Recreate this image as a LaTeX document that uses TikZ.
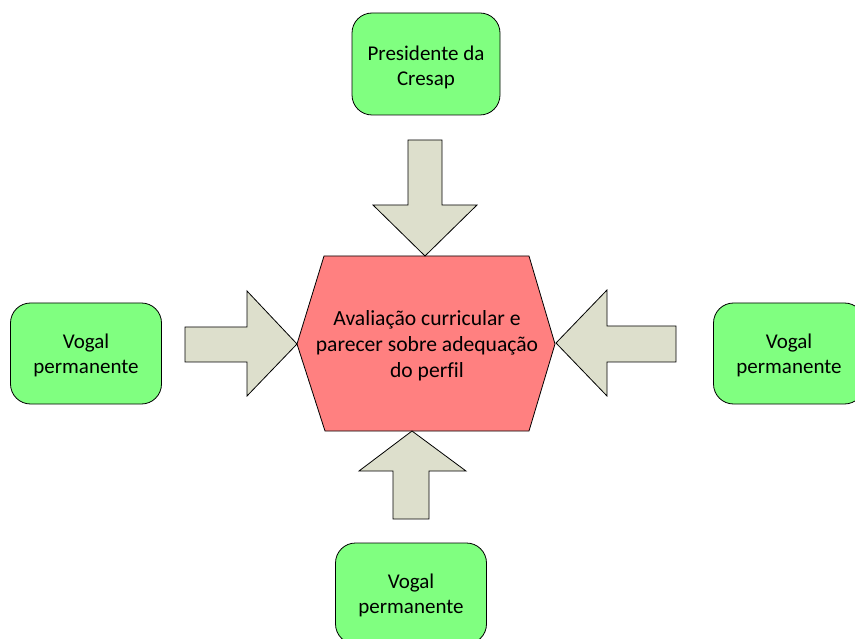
\documentclass[tikz,border=0pt]{standalone}
\usepackage{fontspec}
\setmainfont{Carlito}[Ligatures=NoCommon]
\definecolor{boxgreen}{RGB}{128,255,128}
\definecolor{hexpink}{RGB}{255,128,128}
\definecolor{arrowfill}{RGB}{221,223,204}
\begin{document}
\begin{tikzpicture}[x=1pt,y=-1pt,
  box/.style={draw=black,line width=0.8pt,fill=boxgreen,rounded corners=20pt,
    minimum width=151pt,minimum height=101pt},
  boxtext/.style={align=center,inner sep=0pt,font=\fontsize{21}{25}\selectfont},
  blockarrow/.style={draw=black,line width=0.8pt,fill=arrowfill,line join=miter},
  hexa/.style={draw=black,line width=0.8pt,fill=hexpink,line join=miter}]
\useasboundingbox (0,0) rectangle (855,639);
% boxes
\node[box,minimum width=148pt,minimum height=102pt] (top) at (426,64) {};
\node[boxtext] (toptext) at ([yshift=-3pt]top.center) {Presidente da\\Cresap};
\node[box] (left) at (86,353.5) {};
\node[boxtext] (lefttext) at ([yshift=-2pt]left.center) {Vogal\\permanente};
\node[box] (right) at (789,353.5) {};
\node[boxtext] (righttext) at ([yshift=-2pt]right.center) {Vogal\\permanente};
\node[box] (bottom) at (411,593.5) {};
\node[boxtext] (bottomtext) at ([yshift=-2pt]bottom.center) {Vogal\\permanente};
% hexagon
\draw[hexa] (324,256) -- (529,256) -- (555,344) -- (529,431) -- (325,431) -- (297,344) -- cycle;
\node[align=center,inner sep=0pt,font=\fontsize{21.6}{26}\selectfont] (center) at (427,346)
  {Avaliação curricular e\\parecer sobre adequação\\do perfil};
% top arrow (pointing down)
\draw[blockarrow] (408,140) -- (442,140) -- (442,205) -- (477,205) -- (425,256)
  -- (373,205) -- (408,205) -- cycle;
% left arrow (pointing right)
\draw[blockarrow] (185,327) -- (247,327) -- (247,291) -- (297,344) -- (247,396)
  -- (247,362) -- (185,362) -- cycle;
% right arrow (pointing left)
\draw[blockarrow] (676,326) -- (607,326) -- (607,290) -- (556,343) -- (607,396)
  -- (607,362) -- (676,362) -- cycle;
% bottom arrow (pointing up)
\draw[blockarrow] (393,519) -- (393,471) -- (359,471) -- (412,431) -- (466,471)
  -- (429,471) -- (429,519) -- cycle;
\end{tikzpicture}
\end{document}
